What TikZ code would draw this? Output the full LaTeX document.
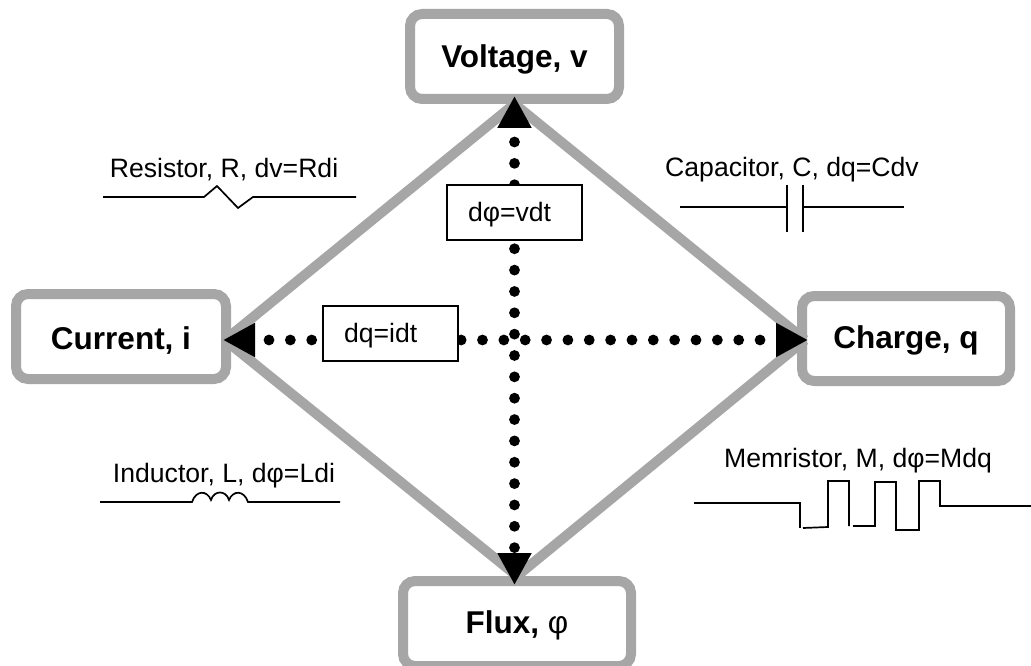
\documentclass[tikz,border=0pt]{standalone}
\usepackage{fontspec}
\setmainfont{Liberation Sans}
\usetikzlibrary{arrows.meta,positioning}
\definecolor{hubgray}{HTML}{A6A6A6}

\begin{document}
\begin{tikzpicture}[x=1pt,y=-1pt,font=\fontsize{26.6}{32}\selectfont,
  hub/.style={draw=hubgray,line width=10pt,rounded corners=12pt,fill=white,minimum height=85pt,align=center,inner sep=0pt,text height=23pt,text depth=0pt,font=\fontsize{31.5}{36}\selectfont\bfseries},
  rel/.style={draw=hubgray,line width=10pt},
  dots/.style={line width=10.8pt,line cap=round,dash pattern=on 0pt off 21.35pt,dash phase=5.35pt,{Triangle[length=32pt,width=32pt]}-{Triangle[length=32pt,width=32pt]}},
  integ/.style={draw,line width=1.5pt,fill=white,minimum height=55pt,align=left,inner ysep=0pt,inner xsep=21pt,text width=93pt,text height=17pt,text depth=0pt},
  sym/.style={line width=1.7pt},
  lab/.style={anchor=base,inner sep=0pt}]
  \clip (0,0) rectangle (1031,666);
  \node[hub,minimum width=209pt] (volt) at (514.5,56.5) {Voltage, v};
  \node[hub,minimum width=210pt,text height=25pt] (curr) at (121,336.5) {Current, i};
  \node[hub,minimum width=208pt,text height=19pt,right=566pt of curr,yshift=-2pt] (chrg) {Charge, q};
  \node[hub,minimum width=228pt,text height=19pt] (flux) at (517,623.5) {Flux, {\mdseries φ}};
  \coordinate (tipT) at (514.5,96);
  \coordinate (tipB) at (514.5,585);
  \coordinate (tipL) at (223,340);
  \coordinate (tipR) at (808,340);
  \coordinate (bendL) at (225,340);
  \coordinate (bendR) at (805,340);
  \draw[rel] (volt.south) -- (bendL);
  \draw[rel] (volt.south) -- (bendR);
  \draw[rel] (flux.north) -- (bendL);
  \draw[rel] (flux.north) -- (bendR);
  \draw[dots] (tipL) -- (tipR);
  \draw[dots] (tipT) -- (tipB);
  \node[integ] (dq) at (390.5,333.5) {dq=idt};
  \node[integ] (dphi) at (514.5,212.5) {dφ=vdt};
  % resistor
  \node[lab] (res) at (224,178) {Resistor, R, dv=Rdi};
  \draw[sym] (103,197) -- (204,197) -- (217,186) -- (238,208) -- (253,197) -- (356,197);
  % capacitor
  \node[lab] (cap) at (792,177) {Capacitor, C, dq=Cdv};
  \draw[sym] (680,207) -- (787,207) (787,185) -- (787,232);
  \draw[sym] (803,185) -- (803,232) (803,207) -- (904,207);
  % inductor
  \node[lab] (ind) at (224,482) {Inductor, L, dφ=Ldi};
  \draw[sym] (100,502) -- (192,502) .. controls (196,490) and (207,490) .. (211,500)
    .. controls (214,490) and (226,490) .. (229,500) .. controls (233,490) and (244,490) .. (248,502) -- (340,502);
  % memristor
  \node[lab] (mem) at (858,467) {Memristor, M, dφ=Mdq};
  \draw[sym] (694,503) -- (800,503) -- (800,528);
  \draw[sym] (803,528) -- (828,527) -- (828,481) -- (849,481) -- (849,526);
  \draw[sym] (853,526) -- (875,526) -- (875,482) -- (896,482) -- (896,530) -- (919,530) -- (919,481) -- (940,481) -- (940,506) -- (1031,506);
\end{tikzpicture}
\end{document}
